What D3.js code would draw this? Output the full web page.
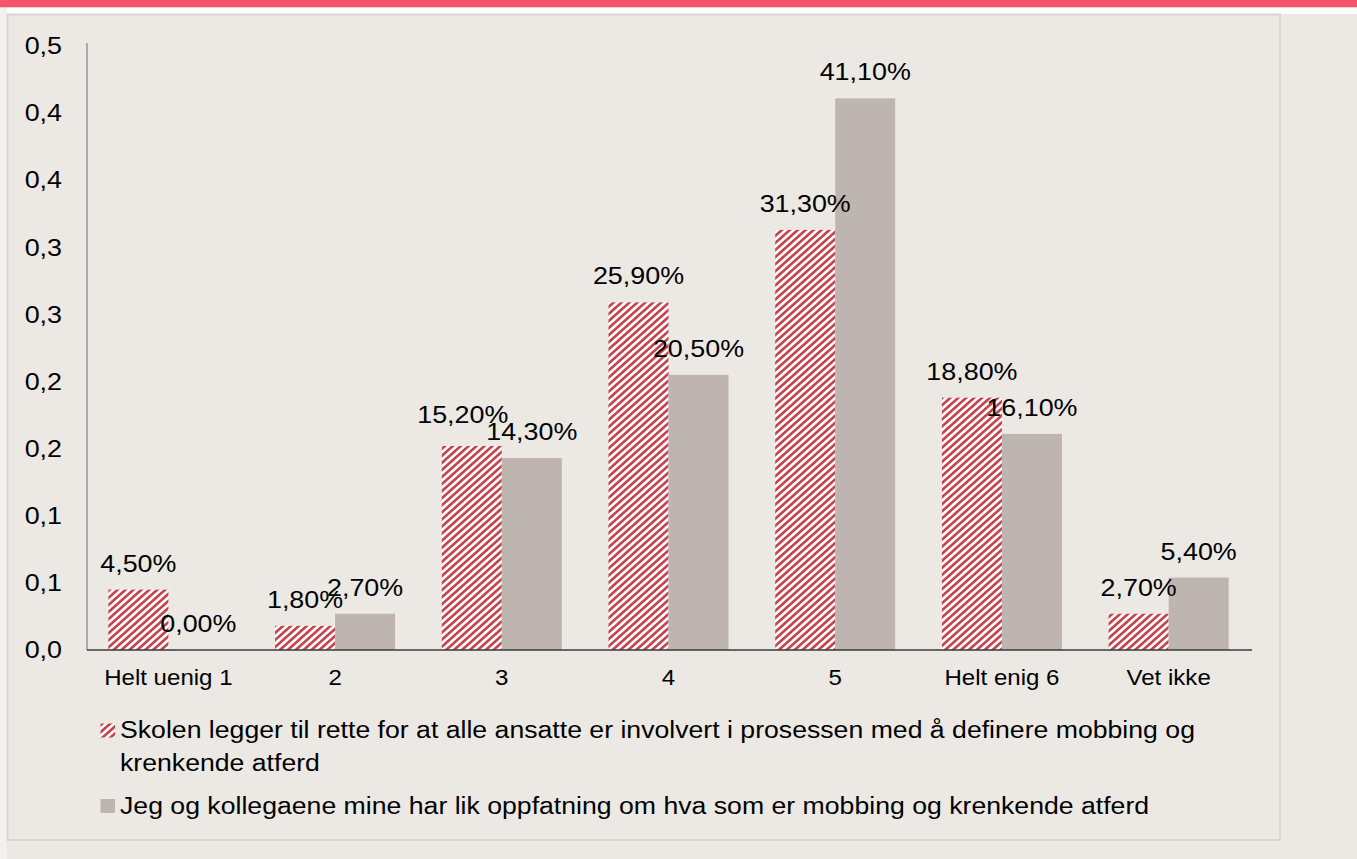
<!DOCTYPE html>
<html><head><meta charset="utf-8">
<script src="https://cdn.jsdelivr.net/npm/d3@7"></script>
<style>html,body{margin:0;padding:0;background:#fff;overflow:hidden}</style>
</head><body>
<script>
const categories = ["Helt uenig 1","2","3","4","5","Helt enig 6","Vet ikke"];
const seriesNames = [
  "Skolen legger til rette for at alle ansatte er involvert i prosessen med å definere mobbing og krenkende atferd",
  "Jeg og kollegaene mine har lik oppfatning om hva som er mobbing og krenkende atferd"
];
const legendLines = [
  ["Skolen legger til rette for at alle ansatte er involvert i prosessen med å definere mobbing og", "krenkende atferd"],
  ["Jeg og kollegaene mine har lik oppfatning om hva som er mobbing og krenkende atferd"]
];
const skolenValues = [0.045, 0.018, 0.152, 0.259, 0.313, 0.188, 0.027];
const kollegaValues = [0.000, 0.027, 0.143, 0.205, 0.411, 0.161, 0.054];
const yTickValues = [0, 0.05, 0.10, 0.15, 0.20, 0.25, 0.30, 0.35, 0.40, 0.45];
const yTickLabels = ["0,0","0,1","0,1","0,2","0,2","0,3","0,3","0,4","0,4","0,5"];

const W = 1357, H = 859, r = 1.12;
const VW = W / r;
const X = px => px / r;

const svg = d3.select("body").append("svg")
  .attr("width", W).attr("height", H)
  .attr("viewBox", `0 0 ${VW} ${H}`)
  .attr("preserveAspectRatio", "none")
  .style("display", "block")
  .style("font-family", "'Liberation Sans', Arial, sans-serif");

const defs = svg.append("defs");
const pat = defs.append("pattern").attr("id", "hatch")
  .attr("patternUnits", "userSpaceOnUse")
  .attr("width", 5).attr("height", 5)
  .attr("patternTransform", "rotate(45)");
pat.append("rect").attr("width", 5).attr("height", 5).attr("fill", "#ffffff");
pat.append("rect").attr("x", 0).attr("width", 2.5).attr("height", 5).attr("fill", "#c9434f");

// backgrounds
svg.append("rect").attr("x", 0).attr("y", 0).attr("width", VW).attr("height", H).attr("fill", "#ece9e4");
svg.append("rect").attr("x", 0).attr("y", 0).attr("width", VW).attr("height", 14).attr("fill", "#ffffff");
svg.append("rect").attr("x", 0).attr("y", 0).attr("width", X(7)).attr("height", H).attr("fill", "#f3f1ee");
svg.append("rect").attr("x", 0).attr("y", 0).attr("width", VW).attr("height", 7.3).attr("fill", "#f25767");
svg.append("rect").attr("x", X(7.5)).attr("y", 14.5).attr("width", X(1280 - 7.5)).attr("height", 840 - 14.5)
  .attr("fill", "#ece9e4").attr("stroke", "#d9d6d3").attr("stroke-width", 2).attr("vector-effect", "non-scaling-stroke");

const baseY = 650, topY = 46;
const y = d3.scaleLinear().domain([0, 0.45]).range([baseY, topY]);
const x0 = d3.scaleBand().domain(categories).range([X(85), X(1252)]).paddingInner(0.28).paddingOuter(0.14);
const x1 = d3.scaleBand().domain([0, 1]).range([0, x0.bandwidth()]);

// y axis
const yAxis = d3.axisLeft(y).tickValues(yTickValues).tickSize(0).tickPadding(X(25))
  .tickFormat((d, i) => yTickLabels[i]);
const gy = svg.append("g").attr("transform", `translate(${X(87)},0)`).call(yAxis);
gy.select(".domain").remove();
gy.selectAll("text").attr("font-size", 24).attr("fill", "#000").attr("font-family", "'Liberation Sans', Arial, sans-serif");
svg.append("line").attr("x1", X(87)).attr("x2", X(87)).attr("y1", 43).attr("y2", baseY)
  .attr("stroke", "#8a8a8a").attr("stroke-width", 1.3).attr("vector-effect", "non-scaling-stroke");

// bars
const fmt = v => (v * 100).toFixed(2).replace(".", ",") + "%";
const series = [skolenValues, kollegaValues];
const fills = ["url(#hatch)", "#bfb5b0"];
series.forEach((vals, s) => {
  const g = svg.append("g");
  g.selectAll("rect").data(vals).join("rect")
    .attr("x", (d, i) => x0(categories[i]) + x1(s))
    .attr("y", d => y(d))
    .attr("width", x1.bandwidth())
    .attr("height", d => baseY - y(d))
    .attr("fill", fills[s]);
});
// label nudge for the overlapping label at "3" (first series), as in the original
const nudge = (s, i) => (s === 0 && i === 2) ? [X(-9), -5] : [0, 0];
series.forEach((vals, s) => {
  svg.append("g").selectAll("text").data(vals).join("text")
    .attr("x", (d, i) => x0(categories[i]) + x1(s) + x1.bandwidth() / 2 + nudge(s, i)[0])
    .attr("y", (d, i) => y(d) - 18 + nudge(s, i)[1])
    .attr("text-anchor", "middle")
    .attr("font-size", 24)
    .attr("fill", "#000")
    .text(d => fmt(d));
});

// x axis
const xAxis = d3.axisBottom(x0).tickSize(0).tickPadding(20);
const gx = svg.append("g").attr("transform", `translate(0,${baseY})`).call(xAxis);
gx.select(".domain").remove();
gx.selectAll("text").attr("font-size", 21.5).attr("fill", "#000").attr("font-family", "'Liberation Sans', Arial, sans-serif");
svg.append("line").attr("x1", X(87)).attr("x2", X(1252)).attr("y1", baseY).attr("y2", baseY)
  .attr("stroke", "#3a3a3a").attr("stroke-width", 1.4).attr("vector-effect", "non-scaling-stroke");

// legend
const legY = [[738, 771], [814]];
const symY = [723.5, 799];
legendLines.forEach((lines, s) => {
  svg.append("rect").attr("x", X(100.5)).attr("y", symY[s]).attr("width", X(14.5)).attr("height", 14)
    .attr("fill", fills[s]);
  const t = svg.append("text").attr("font-size", 23.8).attr("fill", "#000");
  lines.forEach((ln, j) => {
    t.append("tspan").attr("x", X(120)).attr("y", legY[s][j]).text(ln);
  });
});
</script>
</body></html>
